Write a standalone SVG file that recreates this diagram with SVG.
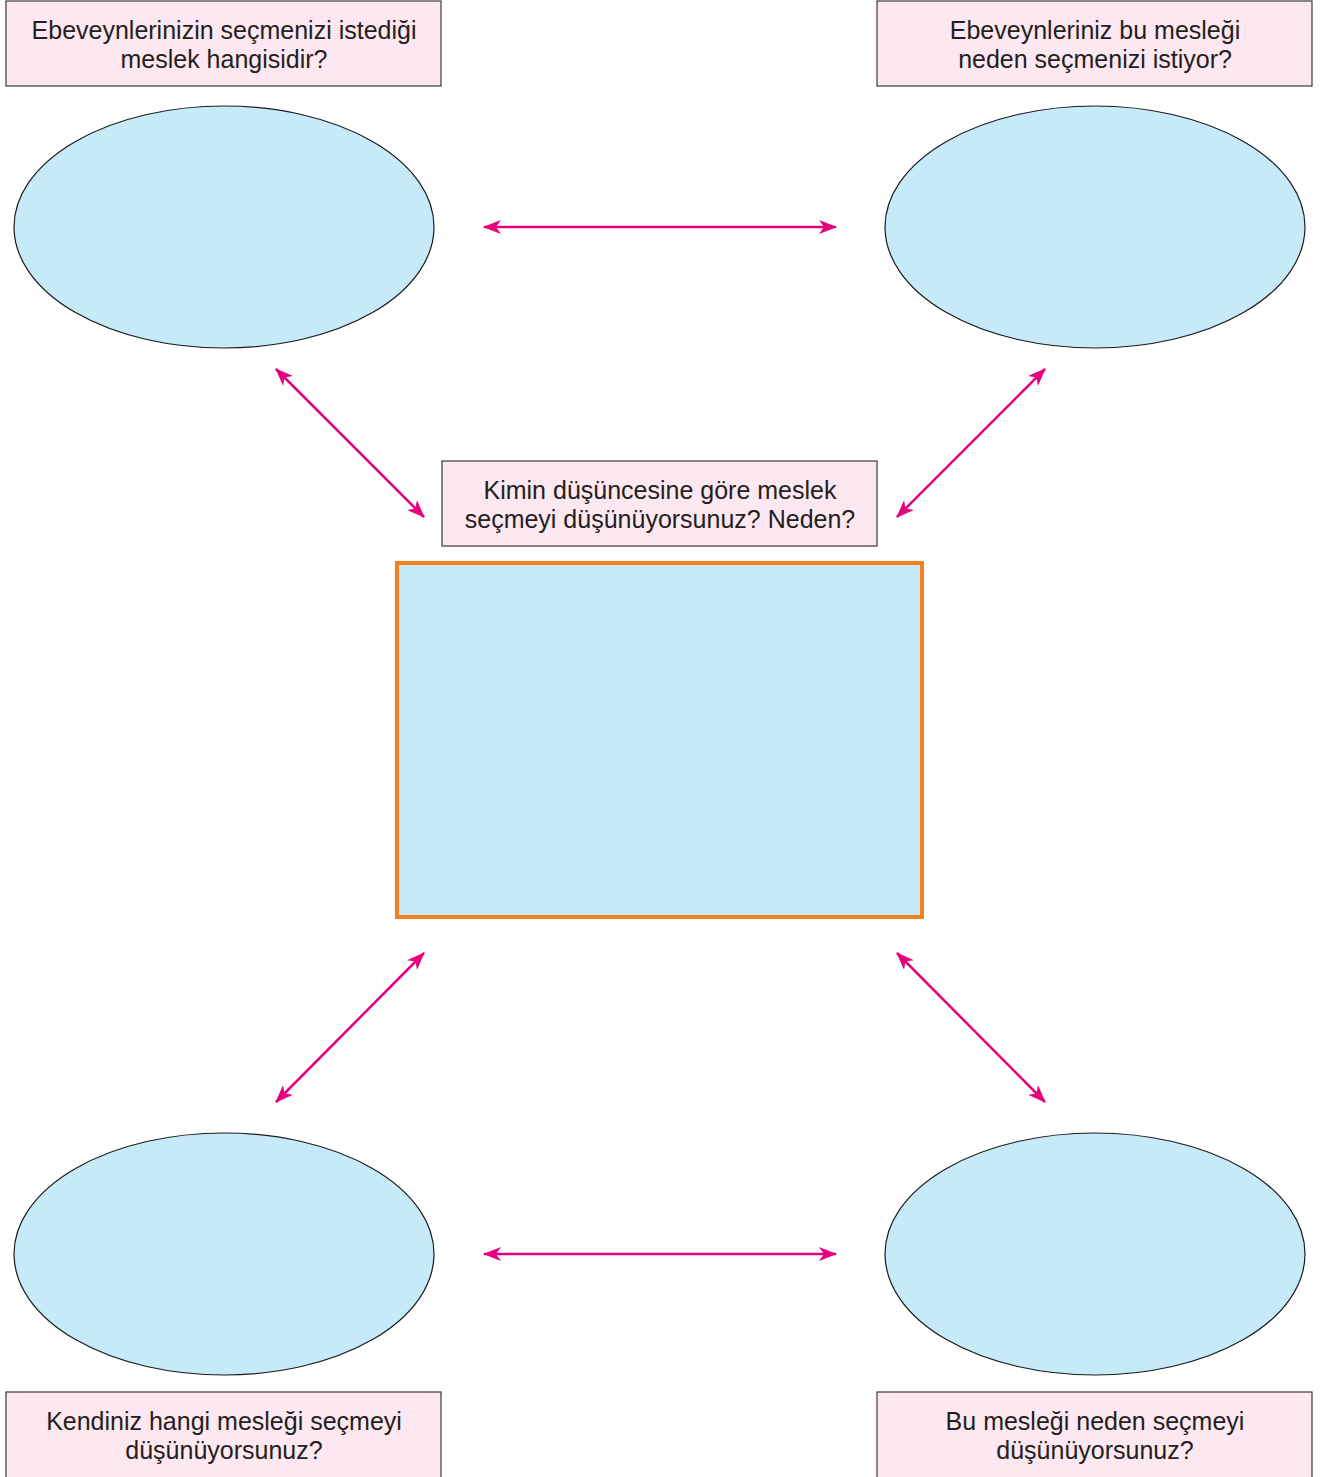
<svg xmlns="http://www.w3.org/2000/svg" width="1330" height="1477" viewBox="0 0 1330 1477">
<style>
.lbl{fill:#fde7f1;stroke:#3a3a3a;stroke-width:1.2}
.ell{fill:#c7eaf9;stroke:#1a1a1a;stroke-width:1.2}
.t{font-family:"Liberation Sans",Arial,sans-serif;font-size:25px;fill:#231f20;text-anchor:middle}
.c{stroke:#e6007e;stroke-width:2.5;fill:none;marker-start:url(#ah);marker-end:url(#ah)}
</style>
<defs>
<marker id="ah" viewBox="0 0 18 14" refX="17" refY="7" markerWidth="18" markerHeight="14" markerUnits="userSpaceOnUse" orient="auto-start-reverse">
<path d="M0,0 L18,7 L0,14 L5,7 Z" fill="#e6007e"/>
</marker>
</defs>
<rect width="1330" height="1477" fill="#fff"/>
<g id="n-top-left-label">
<rect class="lbl" x="6" y="1" width="435" height="85"/>
<text class="t" x="224" y="39">Ebeveynlerinizin seçmenizi istediği</text>
<text class="t" x="224" y="68">meslek hangisidir?</text>
</g>
<g id="n-top-right-label">
<rect class="lbl" x="877" y="1" width="435" height="85"/>
<text class="t" x="1095" y="39">Ebeveynleriniz bu mesleği</text>
<text class="t" x="1095" y="68">neden seçmenizi istiyor?</text>
</g>
<g id="n-top-left-ellipse"><ellipse class="ell" cx="224" cy="227" rx="210" ry="121"/></g>
<g id="n-top-right-ellipse"><ellipse class="ell" cx="1095" cy="227" rx="210" ry="121"/></g>
<g id="n-center-label">
<rect class="lbl" x="442" y="461" width="435" height="85"/>
<text class="t" x="660" y="499">Kimin düşüncesine göre meslek</text>
<text class="t" x="660" y="528">seçmeyi düşünüyorsunuz? Neden?</text>
</g>
<g id="n-center-box"><rect x="397" y="563" width="525" height="354" fill="#c7eaf9" stroke="#f58220" stroke-width="4"/></g>
<g id="n-bottom-left-ellipse"><ellipse class="ell" cx="224" cy="1254" rx="210" ry="121"/></g>
<g id="n-bottom-right-ellipse"><ellipse class="ell" cx="1095" cy="1254" rx="210" ry="121"/></g>
<g id="n-bottom-left-label">
<rect class="lbl" x="6" y="1392" width="435" height="90"/>
<text class="t" x="224" y="1430">Kendiniz hangi mesleği seçmeyi</text>
<text class="t" x="224" y="1459">düşünüyorsunuz?</text>
</g>
<g id="n-bottom-right-label">
<rect class="lbl" x="877" y="1392" width="435" height="90"/>
<text class="t" x="1095" y="1430">Bu mesleği neden seçmeyi</text>
<text class="t" x="1095" y="1459">düşünüyorsunuz?</text>
</g>
<g id="connectors">
<line class="c" x1="484" y1="227" x2="836" y2="227"/>
<line class="c" x1="484" y1="1254" x2="836" y2="1254"/>
<line class="c" x1="276" y1="369" x2="424" y2="517"/>
<line class="c" x1="1045" y1="369" x2="897" y2="517"/>
<line class="c" x1="424" y1="953" x2="276" y2="1102"/>
<line class="c" x1="897" y1="953" x2="1045" y2="1102"/>
</g>
</svg>
